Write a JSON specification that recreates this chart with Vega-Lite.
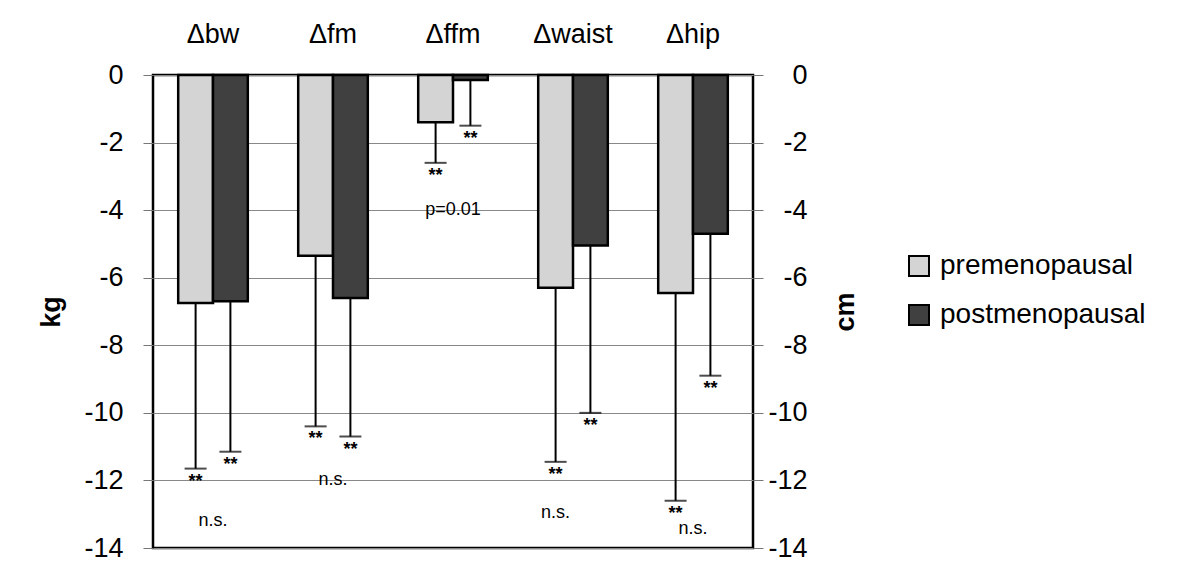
{
  "$schema": "https://vega.github.io/schema/vega-lite/v6.json",
  "width": 600,
  "height": 473,
  "autosize": {"type": "none"},
  "padding": {"left": 153, "top": 75, "right": 447, "bottom": 26},
  "background": "white",
  "config": {
    "font": "Liberation Sans",
    "view": {"stroke": "black", "strokeWidth": 2.5},
    "axis": {"labelFont": "Liberation Sans", "titleFont": "Liberation Sans", "labelColor": "black", "titleColor": "black"}
  },
  "datasets": {
    "bars": [
      {"category": "Δbw", "group": "premenopausal", "value": -6.75, "err": -11.65},
      {"category": "Δbw", "group": "postmenopausal", "value": -6.7, "err": -11.15},
      {"category": "Δfm", "group": "premenopausal", "value": -5.35, "err": -10.4},
      {"category": "Δfm", "group": "postmenopausal", "value": -6.6, "err": -10.7},
      {"category": "Δffm", "group": "premenopausal", "value": -1.4, "err": -2.6},
      {"category": "Δffm", "group": "postmenopausal", "value": -0.15, "err": -1.5},
      {"category": "Δwaist", "group": "premenopausal", "value": -6.3, "err": -11.45},
      {"category": "Δwaist", "group": "postmenopausal", "value": -5.05, "err": -10.0},
      {"category": "Δhip", "group": "premenopausal", "value": -6.45, "err": -12.6},
      {"category": "Δhip", "group": "postmenopausal", "value": -4.7, "err": -8.9}
    ],
    "notes": [
      {"category": "Δbw", "label": "n.s.", "y": -13.2},
      {"category": "Δfm", "label": "n.s.", "y": -12.0},
      {"category": "Δffm", "label": "p=0.01", "y": -4.0},
      {"category": "Δhip", "label": "n.s.", "y": -13.45}
    ],
    "notesPre": [
      {"category": "Δwaist", "group": "premenopausal", "label": "n.s.", "y": -12.95}
    ]
  },
  "layer": [
    {
      "layer": [
        {
          "data": {"name": "bars"},
          "mark": {"type": "bar", "stroke": "black", "strokeWidth": 2.5},
          "encoding": {
            "x": {
              "field": "category", "type": "nominal", "sort": null,
              "scale": {"paddingInner": 0.42, "paddingOuter": 0.21},
              "axis": {"orient": "top", "title": null, "ticks": false, "domain": false, "labelAngle": 0, "labelFontSize": 27, "labelPadding": 27}
            },
            "xOffset": {"field": "group", "type": "nominal", "sort": ["premenopausal", "postmenopausal"]},
            "y": {
              "field": "value", "type": "quantitative",
              "scale": {"domain": [-14, 0], "nice": false, "zero": false},
              "axis": {"values": [0, -2, -4, -6, -8, -10, -12, -14], "labelExpr": "datum.value", "title": "kg", "titleFontSize": 27, "titleFontWeight": "bold", "titlePadding": 18, "labelFontSize": 27, "labelPadding": 20, "tickSize": 10, "tickColor": "#777", "domain": false, "grid": true, "gridColor": "#888", "gridWidth": 1}
            },
            "fill": {
              "field": "group", "type": "nominal", "sort": ["premenopausal", "postmenopausal"],
              "scale": {"domain": ["premenopausal", "postmenopausal"], "range": ["#d4d4d4", "#404040"]},
              "legend": {"title": null, "orient": "none", "legendX": 752, "legendY": 177, "symbolType": "square", "symbolSize": 400, "symbolStrokeColor": "black", "symbolStrokeWidth": 2, "labelFontSize": 28, "labelOffset": 7, "rowPadding": 21, "padding": 0, "labelColor": "black", "labelLimit": 300}
            }
          }
        },
        {
          "data": {"name": "bars"},
          "mark": {"type": "rule", "color": "black", "strokeWidth": 2},
          "encoding": {
            "x": {"field": "category", "type": "nominal", "sort": null},
            "xOffset": {"field": "group", "type": "nominal", "sort": ["premenopausal", "postmenopausal"]},
            "y": {"field": "value", "type": "quantitative"},
            "y2": {"field": "err"}
          }
        },
        {
          "data": {"name": "bars"},
          "mark": {"type": "tick", "color": "black", "thickness": 2, "size": 22},
          "encoding": {
            "x": {"field": "category", "type": "nominal", "sort": null},
            "xOffset": {"field": "group", "type": "nominal", "sort": ["premenopausal", "postmenopausal"]},
            "y": {"field": "err", "type": "quantitative"}
          }
        },
        {
          "data": {"name": "bars"},
          "mark": {"type": "text", "text": "**", "fontSize": 18, "fontWeight": "bold", "baseline": "top", "dy": 4, "color": "black"},
          "encoding": {
            "x": {"field": "category", "type": "nominal", "sort": null},
            "xOffset": {"field": "group", "type": "nominal", "sort": ["premenopausal", "postmenopausal"]},
            "y": {"field": "err", "type": "quantitative"}
          }
        },
        {
          "data": {"name": "notes"},
          "mark": {"type": "text", "fontSize": 18, "color": "black", "baseline": "middle"},
          "encoding": {
            "x": {"field": "category", "type": "nominal", "sort": null},
            "y": {"field": "y", "type": "quantitative"},
            "text": {"field": "label"}
          }
        },
        {
          "data": {"name": "notesPre"},
          "mark": {"type": "text", "fontSize": 18, "color": "black", "baseline": "middle"},
          "encoding": {
            "x": {"field": "category", "type": "nominal", "sort": null},
            "xOffset": {"field": "group", "type": "nominal", "sort": ["premenopausal", "postmenopausal"]},
            "y": {"field": "y", "type": "quantitative"},
            "text": {"field": "label"}
          }
        }
      ]
    },
    {
      "data": {"name": "bars"},
      "mark": {"type": "rule", "opacity": 0},
      "encoding": {
        "y": {
          "field": "value", "type": "quantitative",
          "scale": {"domain": [-14, 0], "nice": false, "zero": false},
          "axis": {"orient": "right", "values": [0, -2, -4, -6, -8, -10, -12, -14], "labelExpr": "datum.value", "title": "cm", "titleFontSize": 27, "titleFontWeight": "bold", "titlePadding": 52, "titleAngle": 270, "labelFontSize": 27, "labelAlign": "right", "labelPadding": 44, "tickSize": 10, "tickColor": "#777", "domain": false, "grid": false}
        }
      }
    }
  ],
  "resolve": {"scale": {"y": "independent"}}
}
